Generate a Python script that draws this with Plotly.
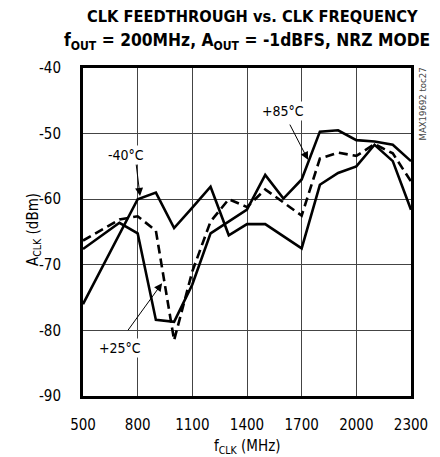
import plotly.graph_objects as go

freq = [500, 600, 700, 800, 900, 1000, 1100, 1200, 1300, 1400, 1500, 1600, 1700, 1800, 1900, 2000, 2100, 2200, 2300]
t_m40 = [-76.0, -70.7, -65.3, -60.0, -59.0, -64.4, -61.3, -58.1, -65.5, -63.8, -63.8, -65.6, -67.5, -57.8, -56.0, -55.0, -51.7, -54.2, -61.6]
t_p25 = [-66.3, -64.7, -63.1, -62.6, -64.8, -81.5, -71.0, -63.4, -60.0, -61.2, -58.5, -60.5, -62.5, -53.8, -52.9, -53.4, -51.6, -53.0, -57.3]
t_p85 = [-67.6, -65.6, -63.6, -65.2, -78.4, -78.7, -73.0, -65.2, -63.4, -61.6, -56.3, -59.9, -57.0, -49.7, -49.5, -51.0, -51.2, -51.7, -54.2]

x_ticks = [500, 800, 1100, 1400, 1700, 2000, 2300]
y_ticks = [-90, -80, -70, -60, -50, -40]

NARROW = "DejaVu Sans Condensed, Liberation Sans Narrow, sans-serif"

fig = go.Figure()
fig.add_trace(go.Scatter(x=freq, y=t_m40, mode="lines", line=dict(color="black", width=2.6), showlegend=False))
fig.add_trace(go.Scatter(x=freq, y=t_p25, mode="lines", line=dict(color="black", width=2.6, dash="9px,5px"), showlegend=False))
fig.add_trace(go.Scatter(x=freq, y=t_p85, mode="lines", line=dict(color="black", width=2.6), showlegend=False))

labels = [
    ("-40°C", 736, -53.3, 791, -54.5, 813, -59.5),
    ("+85°C", 1598, -46.6, 1631, -48.4, 1735, -54.0),
    ("+25°C", 703, -82.7, 741, -80.2, 934, -72.8),
]
for txt, tx, ty, ax, ay, hx, hy in labels:
    fig.add_annotation(x=tx, y=ty, xref="x", yref="y", text=txt, showarrow=False,
                       xanchor="center", yanchor="middle",
                       font=dict(family=NARROW, size=14, color="black"), bgcolor="white", borderpad=1)
    fig.add_annotation(x=hx, y=hy, ax=ax, ay=ay, xref="x", yref="y", axref="x", ayref="y",
                       text="", showarrow=True, arrowhead=2, arrowsize=1.6, arrowwidth=1, arrowcolor="black")

fig.add_annotation(x=(422 - 83) / 328, y=(396 - 104.5) / 328, xref="paper", yref="paper",
                   xanchor="center", yanchor="middle", text="MAX19692 toc27", textangle=-90,
                   showarrow=False, font=dict(family=NARROW, size=9.5, color="#444"))

fig.add_annotation(x=(252 - 83) / 328, y=(396 - 16) / 328, xref="paper", yref="paper",
                   xanchor="center", yanchor="middle",
                   text="<b>CLK FEEDTHROUGH vs. CLK FREQUENCY</b>", showarrow=False,
                   font=dict(family=NARROW, size=16.3, color="black"))
fig.add_annotation(x=(247 - 83) / 328, y=(396 - 42) / 328, xref="paper", yref="paper",
                   xanchor="center", yanchor="middle",
                   text="<b>f<sub>OUT</sub> = 200MHz, A<sub>OUT</sub> = -1dBFS, NRZ MODE</b>", showarrow=False,
                   font=dict(family=NARROW, size=17.3, color="black"))

# axis titles
fig.add_annotation(x=(33 - 83) / 328, y=(396 - 230) / 328, xref="paper", yref="paper", textangle=-90,
                   xanchor="center", yanchor="middle",
                   text="A<sub>CLK</sub> (dBm)", showarrow=False,
                   font=dict(family=NARROW, size=15, color="black"))
fig.add_annotation(x=(247 - 83) / 328, y=(396 - 446) / 328, xref="paper", yref="paper",
                   xanchor="center", yanchor="middle",
                   text="f<sub>CLK</sub> (MHz)", showarrow=False,
                   font=dict(family=NARROW, size=15, color="black"))

fig.update_layout(
    width=440, height=457,
    margin=dict(l=83, r=29, t=68, b=61),
    paper_bgcolor="white", plot_bgcolor="white",
    xaxis=dict(range=[500, 2300], tickvals=x_ticks, ticktext=[str(v) for v in x_ticks],
               showgrid=True, gridcolor="#444", gridwidth=1, zeroline=False,
               showline=True, mirror=True, linecolor="black", linewidth=3,
               ticks="outside", ticklen=13, tickcolor="rgba(0,0,0,0)",
               tickfont=dict(family=NARROW, size=15, color="black")),
    yaxis=dict(range=[-90, -40], tickvals=y_ticks, ticktext=[str(v) for v in y_ticks],
               showgrid=True, gridcolor="#444", gridwidth=1, zeroline=False,
               showline=True, mirror=True, linecolor="black", linewidth=3,
               ticks="outside", ticklen=16, tickcolor="rgba(0,0,0,0)",
               tickfont=dict(family=NARROW, size=15, color="black")),
)

fig.write_html("out.html", config={"displayModeBar": False},
               post_script="document.body.style.margin='0';document.body.style.overflow='hidden';")
